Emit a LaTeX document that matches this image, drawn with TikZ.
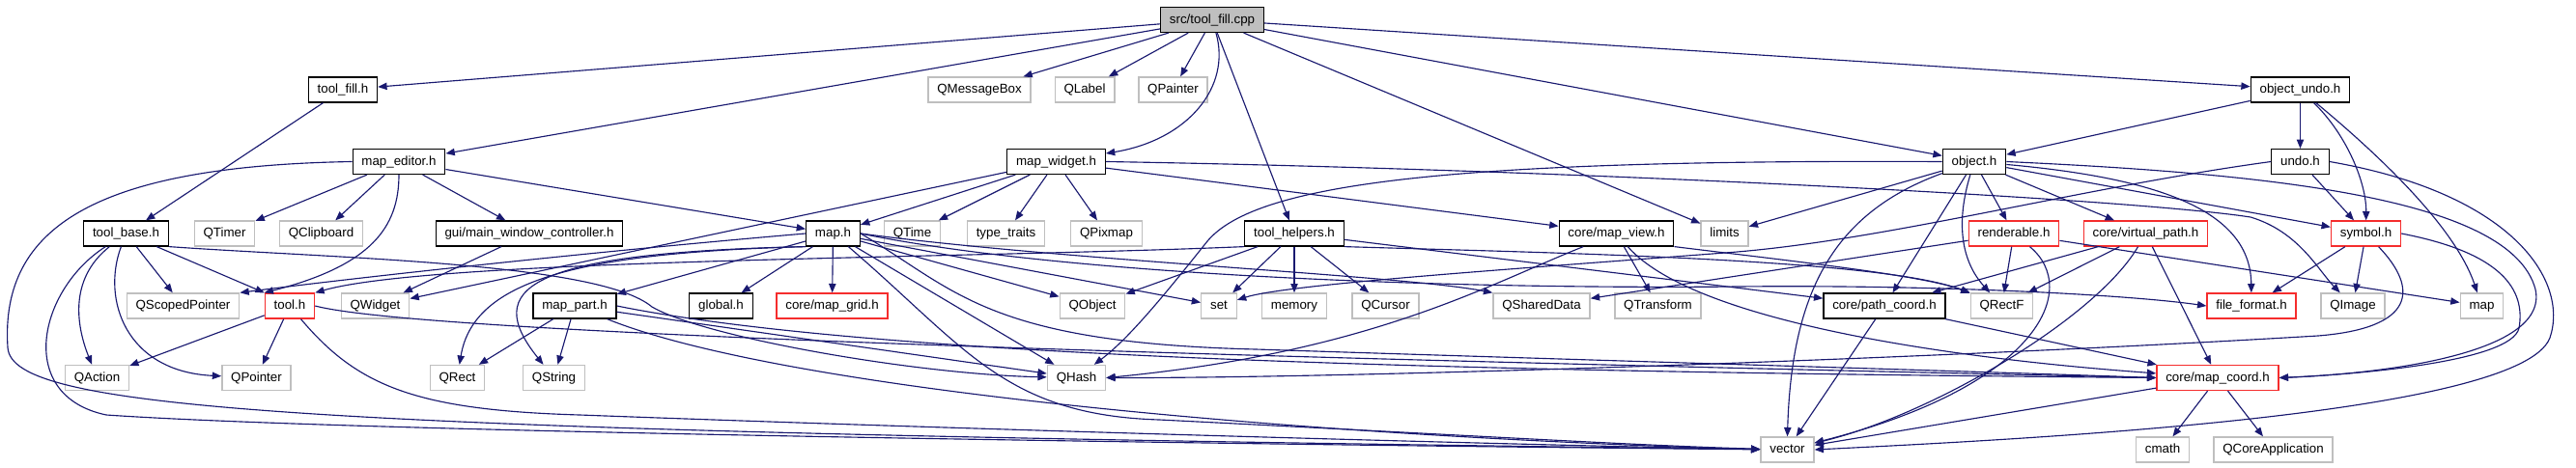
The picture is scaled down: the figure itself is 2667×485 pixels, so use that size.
\documentclass[tikz,border=0pt]{standalone}
\usepackage{fontspec}
\setmainfont{Liberation Sans}
\usepackage{xcolor}
\usetikzlibrary{arrows.meta,positioning}
\definecolor{edgeblue}{RGB}{25,25,112}
\definecolor{sysgray}{RGB}{191,191,191}
\definecolor{truncred}{RGB}{245,45,45}
\definecolor{rootgray}{RGB}{191,191,191}

\begin{document}
\begin{tikzpicture}[x=0.75pt,y=-0.75pt,
  box/.style={rectangle,minimum height=19.5pt,inner xsep=7pt,inner ysep=0pt,
    font=\fontsize{10}{12}\selectfont,text height=7.4pt,text depth=2.1pt},
  hdr/.style={box,draw=black,line width=0.9pt},
  sys/.style={box,draw=sysgray,line width=1pt},
  trunc/.style={box,draw=truncred,line width=1pt},
  root/.style={box,draw=black,fill=rootgray,line width=0.9pt},
  incl/.style={draw=edgeblue,line width=0.85pt,-{Triangle[length=7pt,width=5.5pt]}}]
  \fill[white] (0,0) rectangle (2667,485);
  \useasboundingbox (0,0) rectangle (2667,485);

  % the file itself and its own headers
  \node[root] (cpp) at (1255,20.5) {src/tool\_fill.cpp};
  \node[hdr] (toolfill) at (355,93) {tool\_fill.h};
  \node[hdr] (objundo) at (2381.5,93) {object\_undo.h};
  \node[hdr] (mapeditor) at (413,167.5) {map\_editor.h};
  \node[hdr] (mapwidget) at (1093.5,167.5) {map\_widget.h};
  \node[hdr] (objecth) at (2044,167.5) {object.h};
  \node[hdr] (undoh) at (2381.5,167.5) {undo.h};
  \node[hdr] (toolbase) at (130.5,242) {tool\_base.h};
  \node[hdr] (mwc) at (548,242) {gui/main\_window\_controller.h};
  \node[hdr] (maph) at (862.5,242) {map.h};
  \node[hdr] (toolhelpers) at (1340,242) {tool\_helpers.h};
  \node[hdr] (mapview) at (1673.5,242) {core/map\_view.h};
  \node[hdr] (mappart) at (595,317) {map\_part.h};
  \node[hdr] (globalh) at (746.5,317) {global.h};
  \node[hdr] (pathcoord) at (1951,317) {core/path\_coord.h};

  % headers whose includes are cut off
  \node[trunc] (renderable) at (2085,242) {renderable.h};
  \node[trunc] (vpath) at (2221.5,242) {core/virtual\_path.h};
  \node[trunc] (symbol) at (2449.5,242) {symbol.h};
  \node[trunc] (toolh) at (300,317) {tool.h};
  \node[trunc] (mapgrid) at (861.5,317) {core/map\_grid.h};
  \node[trunc] (fileformat) at (2331,317) {file\_format.h};
  \node[trunc] (mapcoord) at (2296,391.5) {core/map\_coord.h};

  % system headers, row by row
  \foreach \nm/\xx/\lbl in {msgbox/1014/QMessageBox,qlabel/1123/QLabel,qpainter/1214.5/QPainter}
    \node[sys] (\nm) at (\xx,93) {\lbl};
  \foreach \nm/\xx/\lbl in {qtimer/232.5/QTimer,qclipboard/332.5/QClipboard,qtime/944.5/QTime,
      typetraits/1041.5/{type\_traits},qpixmap/1145.5/QPixmap,limits/1785.5/limits}
    \node[sys] (\nm) at (\xx,242) {\lbl};
  \foreach \nm/\xx/\lbl in {qscoped/189.5/QScopedPointer,qwidget/388.5/QWidget,qobject/1131/QObject,
      stdset/1262/set,memory/1340/memory,qcursor/1434.5/QCursor,qshared/1596/QSharedData,
      qtransform/1716.5/QTransform,qrectf/2072.5/QRectF,qimage/2436/QImage,stdmap/2569.5/map}
    \node[sys] (\nm) at (\xx,317) {\lbl};
  \foreach \nm/\xx/\lbl in {qaction/100.5/QAction,qpointer/265.5/QPointer,qrect/473.5/QRect,
      qstring/573.5/QString,qhash/1114.5/QHash}
    \node[sys] (\nm) at (\xx,391.5) {\lbl};
  \foreach \nm/\xx/\lbl in {vector/1850.5/vector,cmath/2239/cmath,qcoreapp/2353.5/QCoreApplication}
    \node[sys] (\nm) at (\xx,466) {\lbl};

  % straight includes
  \foreach \s/\d in {cpp/toolfill,cpp/msgbox,cpp/qlabel,cpp/qpainter,cpp/mapeditor,
      cpp/toolhelpers,cpp/limits,cpp/objecth,cpp/objundo,toolfill/toolbase,
      mapeditor/qtimer,mapeditor/qclipboard,mapeditor/mwc,mapeditor/maph,mwc/qwidget,
      mapwidget/maph,mapwidget/qtime,mapwidget/typetraits,mapwidget/qpixmap,
      mapwidget/mapview,mapwidget/qwidget,toolbase/qscoped,toolh/qaction,toolh/qpointer,
      maph/mappart,maph/globalh,maph/mapgrid,maph/qobject,maph/stdset,maph/qhash,
      mappart/qrect,mappart/qstring,mappart/qhash,toolhelpers/qobject,toolhelpers/stdset,
      toolhelpers/memory,toolhelpers/qcursor,toolhelpers/pathcoord,mapview/qtransform,
      objecth/limits,objecth/pathcoord,objecth/renderable,objecth/vpath,objecth/symbol,
      objundo/objecth,objundo/undoh,undoh/symbol,renderable/qrectf,renderable/qshared,
      renderable/stdmap,vpath/pathcoord,vpath/qrectf,vpath/mapcoord,symbol/fileformat,
      symbol/qimage,pathcoord/vector,pathcoord/mapcoord,mapcoord/vector,mapcoord/cmath,
      mapcoord/qcoreapp}
    \draw[incl] (\s) -- (\d);
  \draw[incl] (toolbase) -- (toolh.north west);

  % curved includes
  \draw[incl] (cpp) .. controls (1275,90) and (1230,145) .. (mapwidget);
  \draw[incl] (mapeditor) .. controls (413,235) and (385,275) .. (toolh.north west);
  \draw[incl] (mapeditor.west) .. controls (100,172) and (0,235) .. (8,360)
    .. controls (12,425) and (300,447) .. (vector);
  \draw[incl] (mapwidget.east) .. controls (1600,175) and (2200,205) .. (2330,225)
    .. controls (2380,240) and (2400,280) .. (qimage);
  \draw[incl] (toolbase) .. controls (70,290) and (80,340) .. (qaction);
  \draw[incl] (toolbase) .. controls (105,310) and (130,385) .. (qpointer);
  \draw[incl] (toolbase) .. controls (40,300) and (15,410) .. (110,430)
    .. controls (400,450) and (1500,463) .. (vector);
  \draw[incl] (toolbase.south east) .. controls (350,268) and (620,272) .. (675,318)
    .. controls (730,350) and (950,388) .. (qhash);
  \draw[incl] (toolh) .. controls (370,400) and (430,425) .. (600,430)
    .. controls (1000,445) and (1600,462) .. (vector);
  \draw[incl] (toolh.east) .. controls (450,350) and (1500,375) .. (mapcoord.west);
  \draw[incl] (maph.west) .. controls (600,262) and (350,290) .. (qscoped.north east);
  \draw[incl] (maph.south west) .. controls (600,262) and (490,290) .. (qrect);
  \draw[incl] (maph.south west) .. controls (540,262) and (500,300) .. (qstring);
  \draw[incl] (maph.east) .. controls (1100,270) and (1450,285) .. (qshared.north west);
  \draw[incl] (maph) .. controls (1000,360) and (1040,430) .. (1200,435)
    .. controls (1500,450) and (1700,462) .. (vector);
  \draw[incl] (maph.east) .. controls (990,300) and (1020,355) .. (1300,362)
    .. controls (1700,375) and (2050,385) .. (mapcoord.west);
  \draw[incl] (maph.east) .. controls (1100,285) and (1500,300) .. (1800,297)
    .. controls (2000,295) and (2200,305) .. (fileformat.west);
  \draw[incl] (mappart.east) .. controls (900,370) and (1500,385) .. (mapcoord.west);
  \draw[incl] (mappart) .. controls (800,400) and (1300,450) .. (vector.west);
  \draw[incl] (toolhelpers.south west) .. controls (1000,268) and (450,268) .. (toolh.north east);
  \draw[incl] (toolhelpers.south east) .. controls (1600,262) and (1950,268) .. (qrectf);
  \draw[incl] (mapview) .. controls (1540,295) and (1420,365) .. (qhash.east);
  \draw[incl] (mapview) .. controls (1750,330) and (2000,370) .. (mapcoord);
  \draw[incl] (mapview.south east) .. controls (1850,270) and (1990,285) .. (qrectf.north west);
  \draw[incl] (objecth.west) .. controls (1500,165) and (1300,190) .. (1250,250)
    .. controls (1210,300) and (1170,350) .. (qhash);
  \draw[incl] (objecth) .. controls (1900,220) and (1855,300) .. (vector.north);
  \draw[incl] (objecth) .. controls (2025,230) and (2030,270) .. (qrectf);
  \draw[incl] (objecth) .. controls (2240,185) and (2330,220) .. (fileformat);
  \draw[incl] (objecth.east) .. controls (2350,180) and (2600,205) .. (2625,300)
    .. controls (2640,370) and (2450,388) .. (mapcoord.east);
  \draw[incl] (objundo) .. controls (2430,140) and (2450,190) .. (symbol);
  \draw[incl] (objundo) .. controls (2450,150) and (2540,230) .. (stdmap);
  \draw[incl] (undoh.west) .. controls (2150,195) and (1950,250) .. (1786,262)
    .. controls (1550,280) and (1330,295) .. (stdset);
  \draw[incl] (undoh.east) .. controls (2600,200) and (2660,290) .. (2640,350)
    .. controls (2610,430) and (2100,455) .. (vector.east);
  \draw[incl] (renderable) .. controls (2155,300) and (2110,400) .. (vector);
  \draw[incl] (vpath) .. controls (2170,330) and (2000,430) .. (vector);
  \draw[incl] (symbol.east) .. controls (2590,262) and (2615,300) .. (2608,340)
    .. controls (2600,375) and (2440,388) .. (mapcoord.east);
  \draw[incl] (symbol) .. controls (2505,300) and (2500,340) .. (2400,348)
    .. controls (2000,372) and (1400,392) .. (qhash.east);
\end{tikzpicture}
\end{document}
